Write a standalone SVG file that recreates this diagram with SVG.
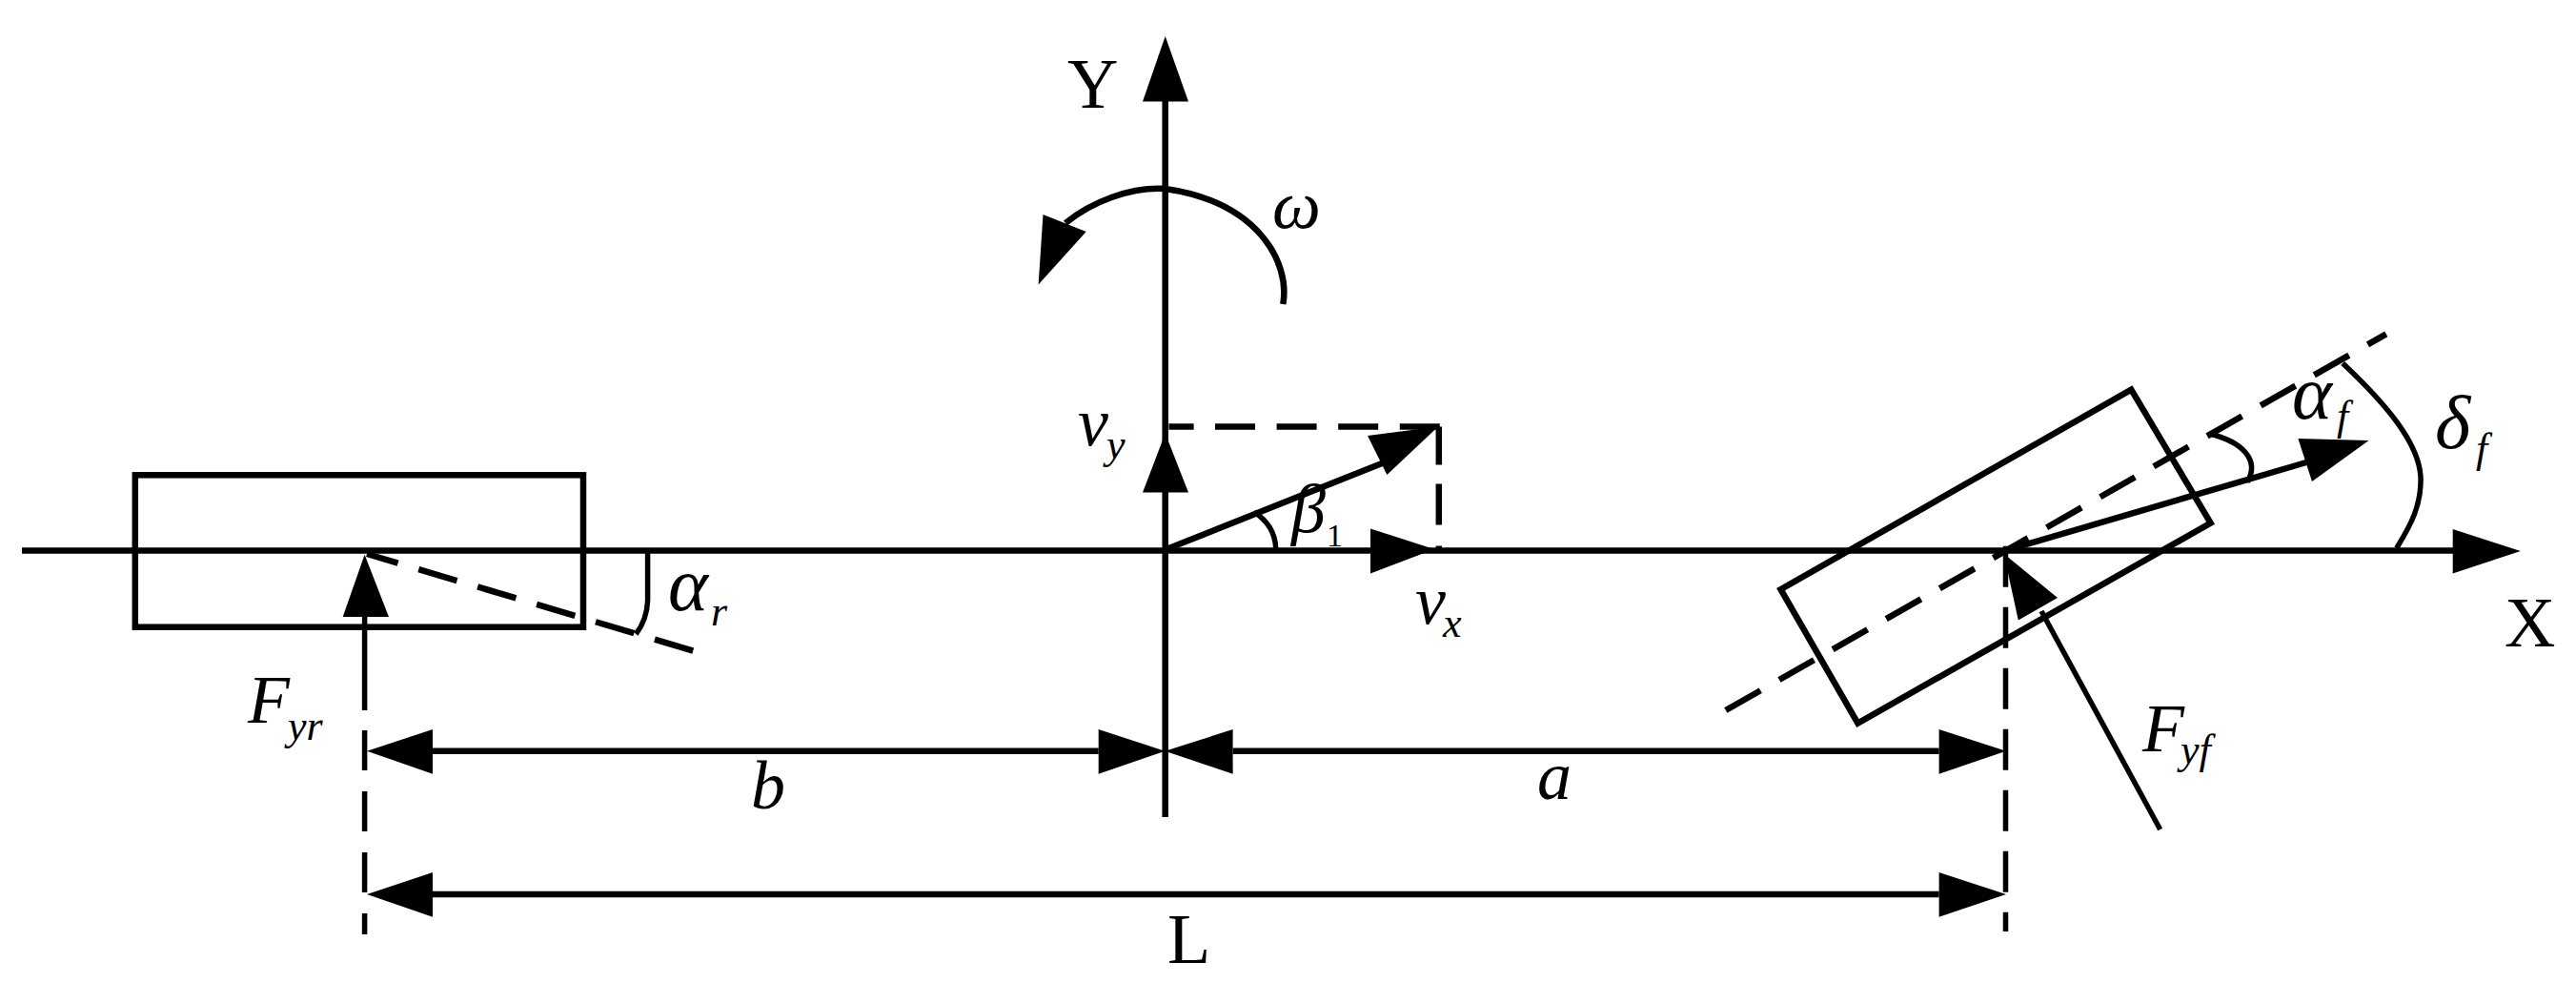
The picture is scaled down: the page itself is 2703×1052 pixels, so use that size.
<svg xmlns="http://www.w3.org/2000/svg" width="2703" height="1052" viewBox="0 0 2703 1052">
<style>
.ln{fill:none;stroke:#000;stroke-width:6.5}
.thin{fill:none;stroke:#000;stroke-width:5.5}
.dash{stroke-dasharray:42 22.6}
.head{fill:#000;stroke:none}
text{font-family:"Liberation Serif","Times New Roman",serif;fill:#000}
.m{font-size:72px;font-style:italic}
.g{font-size:80px;font-style:italic}
.s{font-size:44px;font-style:italic}
.r{font-size:74px}
</style>
<rect width="2703" height="1052" fill="#fff"/>
<g id="connectors">
<path class="ln" d="M23,577.5H2575"/>
<path class="ln" d="M1222.7,100V857"/>
<path class="ln" d="M1346.3,319C1354,275 1320,212 1222.7,198C1185,196 1145,212 1118,234"/>
<polygon class="head" points="1089.6,298.4 1094.5,225 1139.7,243"/>
<polygon class="head" points="1222.7,38 1199,106.5 1247,106.5"/>
<polygon class="head" points="2644.8,577.9 2573.7,555 2573.7,601.4"/>
<polygon class="head" points="1222.7,454.5 1199,516.5 1247,516.5"/>
<polygon class="head" points="1505,576 1438,554.6 1438,601.5"/>
<path class="ln dash" d="M1226.5,447.6H1252.6M1275,447.6H1513"/>
<path class="ln" stroke-dasharray="40 20 43 22 5 99" d="M1509.8,447.6V590"/>
<path class="ln" d="M1224,576L1450,486"/>
<polygon class="head" points="1509,447.6 1435,457 1455.4,498"/>
<path class="thin" d="M1315.7,537C1330,546 1338,558 1338.7,575"/>
<path class="ln dash" d="M1810.8,745L2503.8,350.4"/>
<path class="ln" d="M2102.6,577.9L2420,485"/>
<polygon class="head" points="2485.6,462 2411.4,460 2426,505"/>
<path class="thin" d="M2266.7,870L2142,641"/>
<polygon class="head" points="2102.6,580.7 2159,627 2117.8,650.4"/>
<path class="thin" d="M2318.4,455C2352,463 2372,482 2358,505.7"/>
<path class="thin" d="M2458.2,381C2505,425 2538,465 2540,500C2541,530 2530,550 2514.7,575"/>
<path class="thin" stroke-dasharray="43 21" d="M2104.5,572.7V977"/>
<path class="thin" d="M382.6,647V745"/>
<polygon class="head" points="382.6,581.7 359.7,647 408,647"/>
<path class="thin" stroke-dasharray="42 22" d="M382.6,766V980"/>
<path class="ln dash" stroke-dashoffset="8" d="M385,581L732,684"/>
<path class="thin" d="M679.6,580V630C679,645 675,655 667.3,665"/>
<path class="ln" d="M454,787.7H1152.7M1293.6,787.7H2034.6M454,938H2034.6"/>
<polygon class="head" points="385,787.7 454,765 454,811.7"/>
<polygon class="head" points="1222.4,787.7 1152.7,765 1152.7,811.7"/>
<polygon class="head" points="1222.4,787.7 1293.6,765 1293.6,811.7"/>
<polygon class="head" points="2105,787.7 2034.6,765 2034.6,811.7"/>
<polygon class="head" points="385,938 454,915 454,961.7"/>
<polygon class="head" points="2105,938 2034.6,915 2034.6,961.7"/>
</g>
<g id="rear-wheel">
<rect class="ln" x="141.8" y="498.3" width="470.2" height="159.4"/>
</g>
<g id="front-wheel">
<polygon class="ln" points="2236.3,408.6 2319.6,548.6 1949.4,758.6 1868.5,618.2"/>
</g>
<g id="labels">
<text class="r" x="1120" y="113">Y</text>
<text class="r" x="2628" y="678">X</text>
<text class="r" x="1225" y="1010">L</text>
<text class="m" x="1335" y="239">ω</text>
<text class="m" x="1131" y="467">v</text>
<text class="s" x="1161" y="481">y</text>
<text class="m" x="1355" y="558">β</text>
<text x="1392" y="573" style="font-size:34px">1</text>
<text class="m" x="1485" y="654">v</text>
<text class="s" x="1514" y="668">x</text>
<text class="g" x="2405" y="439">α</text>
<text class="s" x="2452" y="451">f</text>
<text class="g" x="2555" y="470">δ</text>
<text class="s" x="2598" y="485">f</text>
<text class="m" x="2248" y="788">F</text>
<text class="s" x="2288" y="801">yf</text>
<text class="g" x="701" y="640">α</text>
<text class="s" x="746" y="656">r</text>
<text class="m" x="260" y="758">F</text>
<text class="s" x="302" y="776">yr</text>
<text class="m" x="788" y="848">b</text>
<text class="m" x="1613" y="838">a</text>
</g>
</svg>
